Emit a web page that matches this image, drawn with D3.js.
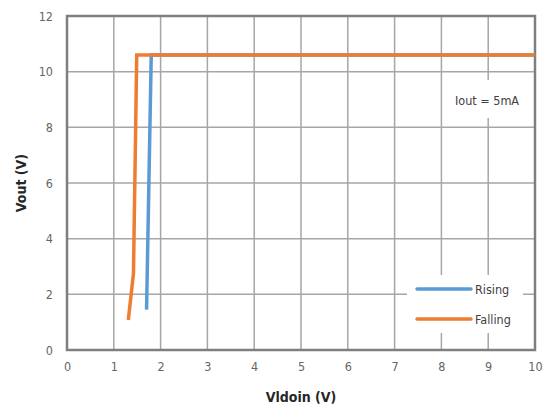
<!DOCTYPE html>
<html><head><meta charset="utf-8">
<script src="https://cdn.jsdelivr.net/npm/d3@7"></script>
<style>
body{margin:0;background:#fff;}
text{font-family:"Liberation Sans Narrow","DejaVu Sans Condensed",sans-serif;}
</style></head>
<body><svg id="c" width="547" height="408"></svg>
<script>
const xTicks=[0,1,2,3,4,5,6,7,8,9,10];
const yTicks=[0,2,4,6,8,10,12];
const risingX=[1.70,1.80,10];
const risingY=[1.45,10.6,10.6];
const fallingX=[1.31,1.42,1.49,10];
const fallingY=[1.08,2.75,10.6,10.6];
const seriesNames=["Rising","Falling"];
const colors=["#5B9BD5","#ED7D31"];
const annotation="Iout = 5mA";

const svg=d3.select("#c");
const L=67,R=535,T=16,B=350;
const x=d3.scaleLinear().domain([0,10]).range([L,R]);
const y=d3.scaleLinear().domain([0,12]).range([B,T]);

// grid
svg.append("g").selectAll("line").data(xTicks).join("line")
 .attr("x1",d=>x(d)).attr("x2",d=>x(d)).attr("y1",T).attr("y2",B)
 .attr("stroke","#a6a6a6").attr("stroke-width",1.5);
svg.append("g").selectAll("line").data(yTicks).join("line")
 .attr("y1",d=>y(d)).attr("y2",d=>y(d)).attr("x1",L).attr("x2",R)
 .attr("stroke","#a6a6a6").attr("stroke-width",1.5);

// axes labels
const xa=svg.append("g").attr("transform",`translate(0,${B})`).call(d3.axisBottom(x).tickValues(xTicks).tickSize(0).tickPadding(12));
const ya=svg.append("g").attr("transform",`translate(${L},0)`).call(d3.axisLeft(y).tickValues(yTicks).tickSize(0).tickPadding(14));
[xa,ya].forEach(a=>{a.select(".domain").remove();a.selectAll("text").attr("font-size",12.5).attr("fill","#666").attr("font-family",'"Liberation Sans Narrow","DejaVu Sans Condensed",sans-serif');});

// frame
svg.append("rect").attr("x",L).attr("y",T).attr("width",R-L).attr("height",B-T)
 .attr("fill","none").attr("stroke","#7f7f7f").attr("stroke-width",2.5);

// annotation box
svg.append("rect").attr("x",446).attr("y",80).attr("width",86).attr("height",38).attr("fill","#fff");
svg.append("text").attr("x",487).attr("y",105).attr("text-anchor","middle").attr("font-size",12.5).attr("fill","#404040").text(annotation);

// legend box
svg.append("rect").attr("x",407).attr("y",275).attr("width",116).attr("height",58).attr("fill","#fff");

const line=d3.line().x(d=>x(d[0])).y(d=>y(d[1]));
const data=[d3.zip(risingX,risingY),d3.zip(fallingX,fallingY)];
data.forEach((d,i)=>{
 svg.append("path").datum(d).attr("d",line).attr("fill","none")
  .attr("stroke",colors[i]).attr("stroke-width",3.5).attr("stroke-linejoin","miter").attr("stroke-linecap","butt");
});

// legend
seriesNames.forEach((n,i)=>{
 const ly=289+i*30;
 svg.append("line").attr("x1",417).attr("x2",471).attr("y1",ly).attr("y2",ly)
  .attr("stroke",colors[i]).attr("stroke-width",3.5).attr("stroke-linecap","round");
 svg.append("text").attr("x",475).attr("y",ly+5).attr("font-size",12.5).attr("fill","#404040").text(n);
});

// titles
svg.append("text").attr("x",301).attr("y",402).attr("text-anchor","middle").attr("font-size",14).attr("font-weight","bold").attr("fill","#262626").text("Vldoin (V)");
svg.append("text").attr("transform",`translate(26,183) rotate(-90)`).attr("text-anchor","middle").attr("font-size",14).attr("font-weight","bold").attr("fill","#262626").text("Vout (V)");
</script></body></html>
